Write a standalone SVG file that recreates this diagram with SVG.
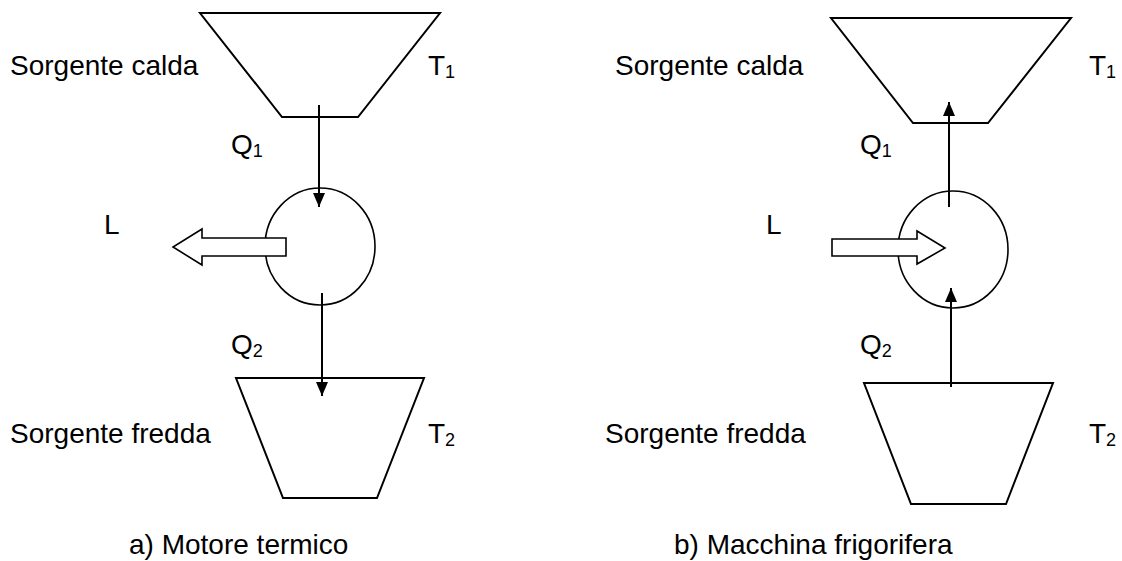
<svg xmlns="http://www.w3.org/2000/svg" width="1122" height="561" viewBox="0 0 1122 561">
<style>
.s{fill:#fff;stroke:#000;stroke-width:2}
.c{fill:#fff;stroke:#000;stroke-width:1.6}
.a{stroke:#000;stroke-width:2;fill:none}
text{font-family:"Liberation Sans",Arial,sans-serif;font-size:28px;fill:#000}
.sub{font-size:18px}
</style>
<defs>
<marker id="ah" markerUnits="userSpaceOnUse" markerWidth="14" markerHeight="14" viewBox="0 0 14 12" refX="14" refY="6" orient="auto">
<path d="M0,0 L14,6 L0,12 Z" fill="#000"/>
</marker>
</defs>
<rect width="1122" height="561" fill="#fff"/>
<g id="hot-a"><polygon class="s" points="200,13 440,13 358,117 282,117"/></g>
<g id="cold-a"><polygon class="s" points="236,378 424,378 377,498 283,498"/></g>
<g id="engine-a"><ellipse class="c" cx="320" cy="246.5" rx="55" ry="58.5"/></g>
<g id="work-a"><polygon class="c" points="286,238 202,238 202,229 173,247 202,265 202,256 286,256"/></g>
<g id="hot-b"><polygon class="s" points="831,18 1071,18 988,123 913,123"/></g>
<g id="cold-b"><polygon class="s" points="864,383 1053,383 1006,504 911,504"/></g>
<g id="engine-b"><ellipse class="c" cx="953" cy="249.5" rx="55" ry="58.5"/></g>
<g id="work-b"><polygon class="c" points="832,239 917,239 917,231 945,248 917,264 917,256 832,256"/></g>
<g id="connectors">
<line class="a" x1="319" y1="105" x2="319" y2="207" marker-end="url(#ah)"/>
<line class="a" x1="322" y1="293" x2="322" y2="396" marker-end="url(#ah)"/>
<line class="a" x1="949" y1="207" x2="949" y2="102" marker-end="url(#ah)"/>
<line class="a" x1="951" y1="387" x2="951" y2="288" marker-end="url(#ah)"/>
</g>
<g id="labels">
<text x="10" y="75">Sorgente calda</text>
<text x="428" y="75">T<tspan class="sub" dy="3">1</tspan></text>
<text x="231" y="154">Q<tspan class="sub" dy="3">1</tspan></text>
<text x="104" y="234">L</text>
<text x="231" y="354">Q<tspan class="sub" dy="3">2</tspan></text>
<text x="10" y="443">Sorgente fredda</text>
<text x="428" y="443">T<tspan class="sub" dy="3">2</tspan></text>
<text x="129" y="554">a) Motore termico</text>
<text x="615" y="75">Sorgente calda</text>
<text x="1089" y="75">T<tspan class="sub" dy="3">1</tspan></text>
<text x="860" y="154">Q<tspan class="sub" dy="3">1</tspan></text>
<text x="766" y="234">L</text>
<text x="860" y="354">Q<tspan class="sub" dy="3">2</tspan></text>
<text x="605" y="443">Sorgente fredda</text>
<text x="1089" y="443">T<tspan class="sub" dy="3">2</tspan></text>
<text x="674" y="554">b) Macchina frigorifera</text>
</g>
</svg>
